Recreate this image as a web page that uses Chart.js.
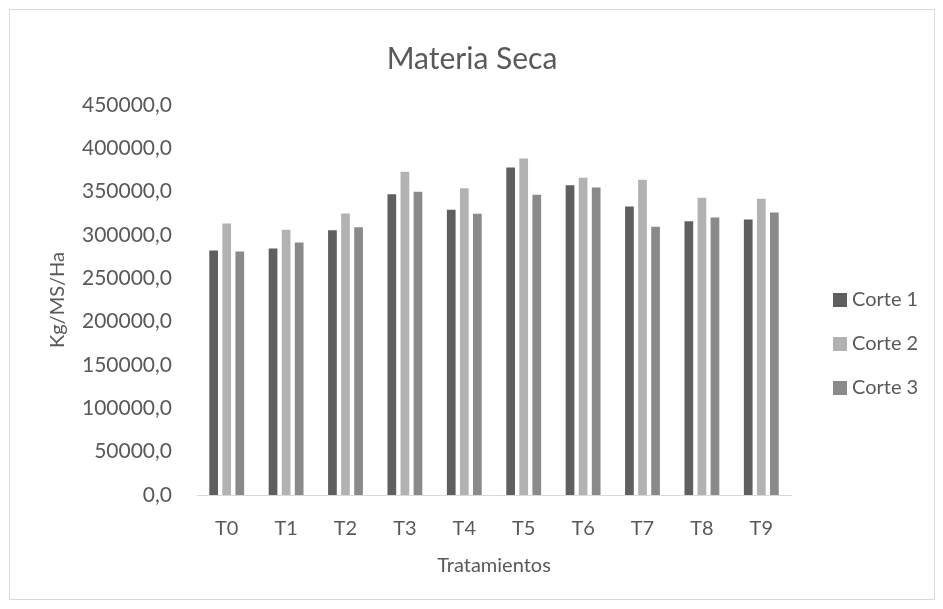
<!DOCTYPE html>
<html>
<head>
<meta charset="utf-8">
<script src="https://cdn.jsdelivr.net/npm/chart.js@4.4.1/dist/chart.umd.min.js"></script>
<style>
    body { margin: 0; background: #fff; }
    .box { position: absolute; left: 9px; top: 9px; width: 926px; height: 591px; border: 1px solid #d9d9d9; box-sizing: border-box; }
</style>
</head>
<body>
<div class="box"><canvas id="barChart" width="924" height="589"></canvas></div>
<script>
const categories = ['T0', 'T1', 'T2', 'T3', 'T4', 'T5', 'T6', 'T7', 'T8', 'T9'];
const corte1 = [283300, 285600, 306700, 348200, 330200, 379000, 358600, 334000, 317100, 319000];
const corte2 = [314400, 307100, 326000, 374100, 355200, 389400, 367200, 365000, 344000, 343000];
const corte3 = [282100, 292500, 310200, 351000, 325600, 347500, 356000, 310600, 321300, 327100];
const seriesNames = ['Corte 1', 'Corte 2', 'Corte 3'];
const seriesColors = ['#5f5f5f', '#b2b2b2', '#8a8a8a'];
const yTicks = [0, 50000, 100000, 150000, 200000, 250000, 300000, 350000, 400000, 450000];
const chartTitle = 'Materia Seca';

const textColor = '#595959';
const font = 'Lato';

// title + legend drawn by hand, like the excel one (title centred on the whole box)
const excelExtras = {
    id: 'excelExtras',
    afterDraw(chart) {
        const c = chart.ctx;
        c.save();
        c.fillStyle = textColor;
        c.font = '30px ' + font;
        c.textAlign = 'center';
        c.textBaseline = 'middle';
        c.fillText(chartTitle, chart.width / 2, 49);

        c.textAlign = 'left';
        c.font = '20px ' + font;
        chart.data.datasets.forEach((ds, i) => {
            const y = 290 + i * 44;
            c.fillStyle = ds.backgroundColor;
            c.fillRect(823, y - 7, 14, 14);
            c.fillStyle = textColor;
            c.fillText(ds.label, 842, y);
        });
        c.restore();
    }
};

var ctx = document.getElementById('barChart').getContext('2d');
var myChart = new Chart(ctx, {
    type: 'bar',
    data: {
        labels: categories,
        datasets: [corte1, corte2, corte3].map((d, i) => ({
            label: seriesNames[i],
            data: d,
            backgroundColor: seriesColors[i],
            borderColor: 'rgba(255,255,255,0.5)',
            borderWidth: 1,
            categoryPercentage: 0.66,
            barPercentage: 0.82
        }))
    },
    options: {
        responsive: false,
        animation: false,
        layout: { padding: { top: 95, left: 0, right: 143, bottom: 9 } },
        plugins: {
            legend: { display: false },
            tooltip: { enabled: false },
            title: { display: false }
        },
        scales: {
            x: {
                grid: { display: false },
                border: { display: true, color: '#d9d9d9', width: 1 },
                ticks: { color: textColor, font: { family: font, size: 20 }, padding: 14 },
                title: {
                    display: true,
                    text: 'Tratamientos',
                    color: textColor,
                    font: { family: font, size: 20 },
                    padding: { top: 0, bottom: 12 }
                },
                afterFit(scale) { scale.height = 95; }
            },
            y: {
                min: 0,
                max: 450000,
                grid: { display: false },
                border: { display: false },
                afterBuildTicks(scale) { scale.ticks = yTicks.map(v => ({ value: v })); },
                ticks: {
                    color: textColor,
                    font: { family: font, size: 21 },
                    padding: 17,
                    callback: v => v.toFixed(1).replace('.', ',')
                },
                title: {
                    display: true,
                    text: 'Kg/MS/Ha',
                    color: textColor,
                    font: { family: font, size: 20 },
                    padding: { top: 36, bottom: 0 }
                },
                afterFit(scale) { scale.width = 187; }
            }
        }
    },
    plugins: [excelExtras]
});
</script>
</body>
</html>
